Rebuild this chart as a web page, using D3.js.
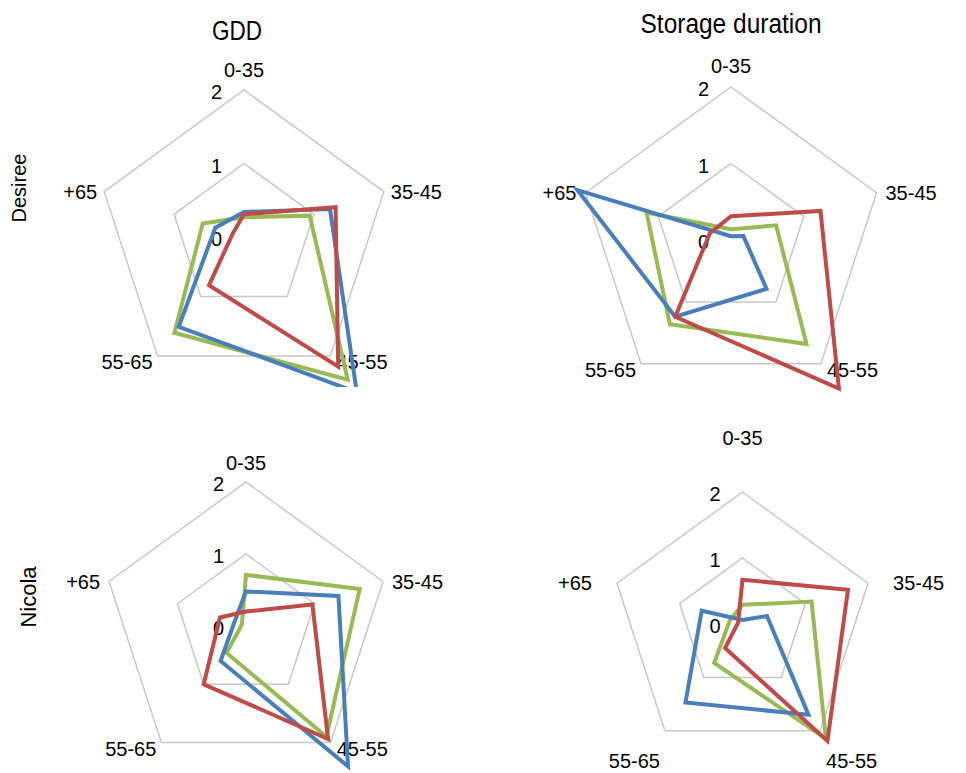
<!DOCTYPE html>
<html>
<head>
<meta charset="utf-8">
<script src="https://cdn.jsdelivr.net/npm/d3@7"></script>
<style>
  body { margin: 0; background: #fff; }
  text { font-family: "Liberation Sans", Arial, sans-serif; fill: #000; }
</style>
</head>
<body>
<div id="chart"></div>
<script>
// axis categories and tick values
var axes = ["0-35", "35-45", "45-55", "55-65", "+65"];
var ticks = [0, 1, 2];
var colTitles = ["GDD", "Storage duration"];
var rowTitles = ["Desiree", "Nicola"];

// series order: blue, red, green (values per axis, in order of 'axes')
var desireeGdd = [
  [0.34, 1.23, 2.61, 1.51, 0.41],
  [0.31, 1.31, 2.18, 0.81, 0.16],
  [0.27, 0.94, 2.40, 1.61, 0.59]
];
var desireeStorage = [
  [0.05, 0.17, 0.79, 1.24, 2.11],
  [0.31, 1.23, 2.40, 1.24, 0.29],
  [0.14, 0.62, 1.68, 1.36, 1.16]
];
var nicolaGdd = [
  [0.48, 1.35, 2.41, 0.60, 0.17],
  [0.20, 0.97, 1.94, 1.00, 0.38],
  [0.71, 1.66, 1.90, 0.46, 0.06]
];
var nicolaStorage = [
  [0.06, 0.39, 1.70, 1.47, 0.65],
  [0.67, 1.68, 2.19, 0.45, 0.07],
  [0.29, 1.10, 2.15, 0.73, 0.20]
];

var colors = ["#4a7ebb", "#be4b48", "#98b954"];
var drawOrder = [2, 0, 1]; // green under blue under red

var width = 966, height = 773;

var svg = d3.select("#chart").append("svg")
  .attr("width", width)
  .attr("height", height);

// panel layout: centre, radius of value 2, label pads [top, side, bottom]
var panels = [
  {data: desireeGdd, cx: 244, cy: 237, r: 147, pad: [13, 7, 0], clipBottom: 387},
  {data: desireeStorage, cx: 731, cy: 240, r: 153, pad: [14, 9, 0], clipBottom: height},
  {data: nicolaGdd, cx: 246, cy: 626, r: 144, pad: [12, 9, 0], clipBottom: height},
  {data: nicolaStorage, cx: 742.5, cy: 624, r: 132, pad: [47, 25, 24], clipBottom: height}
];

var angle = function(i) { return i * 2 * Math.PI / axes.length; };

panels.forEach(function(p, pi) {
  var rScale = d3.scaleLinear().domain([0, 2]).range([0, p.r]);

  var clipId = "clip" + pi;
  svg.append("clipPath").attr("id", clipId)
    .append("rect")
    .attr("x", p.cx - 250).attr("y", 0)
    .attr("width", 500).attr("height", p.clipBottom);

  var g = svg.append("g")
    .attr("transform", "translate(" + p.cx + "," + p.cy + ")");

  // grid pentagons
  var gridLine = d3.lineRadial()
    .angle(function(d, i) { return angle(i); })
    .radius(function(d) { return rScale(d); })
    .curve(d3.curveLinearClosed);

  g.selectAll(".grid")
    .data(ticks.filter(function(t) { return t > 0; }))
    .enter().append("path")
    .attr("class", "grid")
    .attr("d", function(t) { return gridLine(axes.map(function() { return t; })); })
    .attr("fill", "none")
    .attr("stroke", "#c8c8c8")
    .attr("stroke-width", 1.5);

  // tick labels
  g.selectAll(".tick")
    .data(ticks)
    .enter().append("text")
    .attr("x", -22)
    .attr("y", function(t) { return -rScale(t) + 2; })
    .attr("text-anchor", "end")
    .attr("dominant-baseline", "central")
    .style("font-size", "20px")
    .text(function(t) { return t; });

  // series
  var serLine = d3.lineRadial()
    .angle(function(d, i) { return angle(i); })
    .radius(function(d) { return rScale(d); })
    .curve(d3.curveLinearClosed);

  var sg = svg.append("g")
    .attr("clip-path", "url(#" + clipId + ")")
    .append("g")
    .attr("transform", "translate(" + p.cx + "," + p.cy + ")");

  drawOrder.forEach(function(si) {
    sg.append("path")
      .datum(p.data[si])
      .attr("d", serLine)
      .attr("fill", "none")
      .attr("stroke", colors[si])
      .attr("stroke-width", 4)
      .attr("stroke-linejoin", "miter");
  });

  // axis labels
  axes.forEach(function(name, i) {
    var a = angle(i) - Math.PI / 2;
    var vx = Math.cos(a) * p.r, vy = Math.sin(a) * p.r;
    var t = g.append("text").style("font-size", "20px").text(name);
    if (i === 0) {
      t.attr("x", vx).attr("y", vy - p.pad[0]).attr("text-anchor", "middle");
    } else if (i === 1 || i === 4) {
      t.attr("x", vx + (i === 1 ? p.pad[1] : -p.pad[1])).attr("y", vy)
        .attr("dominant-baseline", "central")
        .attr("text-anchor", i === 1 ? "start" : "end");
    } else {
      t.attr("x", vx + (i === 2 ? 6 : -5)).attr("y", vy + p.pad[2] - 1)
        .attr("dominant-baseline", "hanging")
        .attr("text-anchor", i === 2 ? "start" : "end");
    }
  });
});

// column titles
var titleX = [237, 731], titleY = [40, 33], titleW = [50, 181];
colTitles.forEach(function(t, i) {
  svg.append("text")
    .attr("x", titleX[i]).attr("y", titleY[i])
    .attr("text-anchor", "middle")
    .attr("textLength", titleW[i])
    .attr("lengthAdjust", "spacingAndGlyphs")
    .style("font-family", "'Liberation Sans Narrow', 'Liberation Sans', Arial, sans-serif")
    .style("font-size", "27px")
    .text(t);
});

// row titles
var rowX = [19, 28], rowY = [188, 597], rowSize = [20, 22];
rowTitles.forEach(function(t, i) {
  svg.append("text")
    .attr("transform", "translate(" + rowX[i] + "," + rowY[i] + ") rotate(-90)")
    .attr("text-anchor", "middle")
    .attr("dominant-baseline", "central")
    .style("font-size", rowSize[i] + "px")
    .text(t);
});
</script>
</body>
</html>
